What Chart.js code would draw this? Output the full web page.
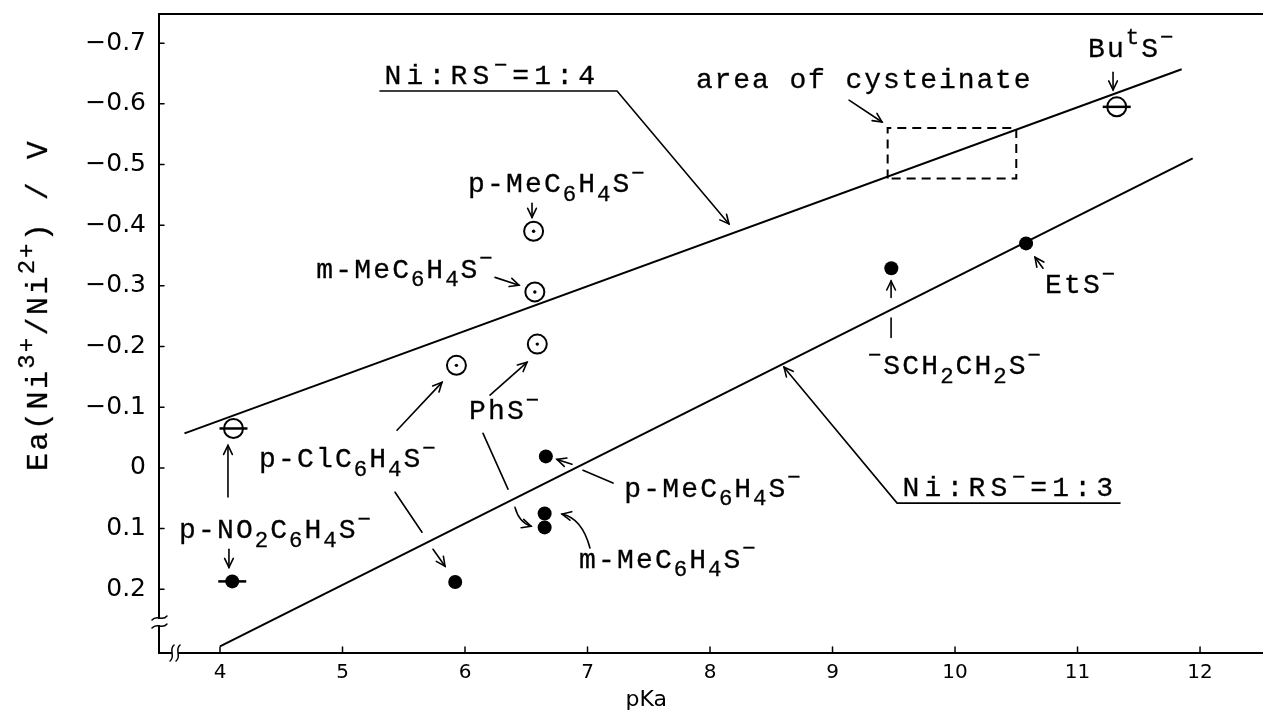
<!DOCTYPE html>
<html lang="en">
<head>
<meta charset="UTF-8">
<title>Ea(Ni3+/Ni2+) vs pKa</title>
<script src="https://cdn.jsdelivr.net/npm/chart.js"></script>
<style>
  html, body { margin: 0; padding: 0; background: #ffffff; }
  #chart { display: block; }
</style>
</head>
<body>
<canvas id="chart" width="1263" height="713"></canvas>
<script>
// axis ticks
const xTicks = [4, 5, 6, 7, 8, 9, 10, 11, 12];
const yTicks = [-0.7, -0.6, -0.5, -0.4, -0.3, -0.2, -0.1, 0, 0.1, 0.2];
const yTickLabels = ['\u22120.7', '\u22120.6', '\u22120.5', '\u22120.4', '\u22120.3', '\u22120.2', '\u22120.1', '0', '0.1', '0.2'];

// Ni:RS- = 1:4 complexes (open circle with dot): p-Me, m-Me, PhS, p-Cl
const pkaOpen = [6.56, 6.57, 6.59, 5.93];
const eaOpen = [-0.390, -0.290, -0.204, -0.169];
// open circles with pKa bar: p-NO2, ButS
const pkaOpenBar = [4.11, 11.32];
const eaOpenBar = [-0.065, -0.595];
// Ni:RS- = 1:3 complexes (filled): p-NO2, p-Cl, p-Me, m-Me, PhS, SCH2CH2S, EtS
const pkaFilled = [4.10, 5.92, 6.66, 6.65, 6.65, 9.48, 10.58];
const eaFilled = [0.187, 0.188, -0.019, 0.075, 0.098, -0.329, -0.370];
// horizontal pKa bars
const pkaBar = [4.11, 11.32, 4.10];
const eaBar = [-0.065, -0.595, 0.187];
// fitted lines
const pkaLine4 = [3.71, 11.85];
const eaLine4 = [-0.057, -0.657];
const pkaLine3 = [4.00, 11.94];
const eaLine3 = [0.294, -0.510];
// area of cysteinate
const pkaCys = [9.45, 9.45, 10.50, 10.50, 9.45];
const eaCys = [-0.477, -0.560, -0.560, -0.477, -0.477];

// labels, anchored at left/baseline in data units
const notes = [
  { text: 'Ni:RS^\u2212=1:4', x: 5.322, y: -0.632, pitch: 22 },
  { text: 'area of cysteinate', x: 7.877, y: -0.626, pitch: 18.7 },
  { text: 'Bu^tS^\u2212', x: 11.077, y: -0.677 },
  { text: 'p-MeC_6H_4S^\u2212', x: 6.016, y: -0.454 },
  { text: 'm-MeC_6H_4S^\u2212', x: 4.776, y: -0.313 },
  { text: 'PhS^\u2212', x: 6.024, y: -0.080 },
  { text: 'p-ClC_6H_4S^\u2212', x: 4.310, y: -0.001 },
  { text: 'p-NO_2C_6H_4S^\u2212', x: 3.657, y: 0.116 },
  { text: 'p-MeC_6H_4S^\u2212', x: 7.290, y: 0.048 },
  { text: 'm-MeC_6H_4S^\u2212', x: 6.922, y: 0.165 },
  { text: '^\u2212SCH_2CH_2S^\u2212', x: 9.282, y: -0.154 },
  { text: 'EtS^\u2212', x: 10.726, y: -0.288 },
  { text: 'Ni:RS^\u2212=1:3', x: 9.551, y: 0.047, pitch: 22 }
];

// leader lines and arrows, data units
const arrows = [
  { pts: [[5.306, -0.621], [7.241, -0.621], [8.155, -0.402]], head: true },
  { pts: [[9.135, -0.606], [9.404, -0.570]], head: true },
  { pts: [[11.29, -0.652], [11.29, -0.623]], head: true },
  { pts: [[6.547, -0.436], [6.547, -0.413]], head: true },
  { pts: [[6.245, -0.314], [6.441, -0.301]], head: true },
  { pts: [[6.204, -0.120], [6.506, -0.174]], head: true },
  { pts: [[6.147, -0.057], [6.351, 0.035]], head: false },
  { pts: [[6.408, 0.065], [6.441, 0.090], [6.539, 0.096]], head: true, curve: true },
  { pts: [[5.445, -0.062], [5.812, -0.141]], head: true },
  { pts: [[5.429, 0.040], [5.649, 0.106]], head: false },
  { pts: [[5.739, 0.134], [5.837, 0.162]], head: true },
  { pts: [[4.065, 0.048], [4.065, -0.037]], head: true },
  { pts: [[4.073, 0.134], [4.073, 0.164]], head: true },
  { pts: [[7.208, 0.025], [6.963, 0.004]], head: false },
  { pts: [[6.873, -0.006], [6.751, -0.014]], head: true },
  { pts: [[7.020, 0.132], [6.955, 0.083], [6.792, 0.076]], head: true, curve: true },
  { pts: [[9.478, -0.215], [9.478, -0.247]], head: false },
  { pts: [[9.478, -0.281], [9.478, -0.308]], head: true },
  { pts: [[10.718, -0.329], [10.653, -0.347]], head: true },
  { pts: [[11.347, 0.058], [9.527, 0.058], [8.604, -0.166]], head: true }
];

const yTitle = 'Ea(Ni^{3+}/Ni^{2+}) / V';
const xTitle = 'pKa';

const toPts = (xs, ys) => xs.map((x, i) => ({ x: x, y: ys[i] }));

function parseRich(str) {
  const out = [];
  let i = 0;
  while (i < str.length) {
    let ch = str[i];
    let mode = 'n';
    if (ch === '_' || ch === '^') {
      mode = ch === '_' ? 's' : 'p';
      i++;
      if (str[i] === '{') {
        const j = str.indexOf('}', i);
        for (const c of str.slice(i + 1, j)) out.push({ c: c, mode: mode });
        i = j + 1;
        continue;
      }
      ch = str[i];
    }
    out.push({ c: ch, mode: mode });
    i++;
  }
  return out;
}

// typewriter text with sub/superscripts, a touch heavier like the scan
function drawRich(ctx, str, x, y, size, pitch) {
  let cx = x;
  ctx.textAlign = 'center';
  ctx.textBaseline = 'alphabetic';
  ctx.lineWidth = 0.3;
  for (const g of parseRich(str)) {
    const small = g.mode !== 'n';
    const fs = small ? size * 0.8 : size;
    const dy = g.mode === 's' ? size * 0.3 : (g.mode === 'p' ? -size * 0.45 : 0);
    const adv = small ? pitch * 0.8 : pitch;
    ctx.font = fs + 'px "Liberation Mono"';
    ctx.fillText(g.c, cx + adv / 2, y + dy);
    ctx.strokeText(g.c, cx + adv / 2, y + dy);
    cx += adv;
  }
}

function arrowHead(ctx, x0, y0, x1, y1) {
  const a = Math.atan2(y1 - y0, x1 - x0);
  const len = 10, spread = 0.45;
  ctx.beginPath();
  ctx.moveTo(x1 - len * Math.cos(a - spread), y1 - len * Math.sin(a - spread));
  ctx.lineTo(x1, y1);
  ctx.lineTo(x1 - len * Math.cos(a + spread), y1 - len * Math.sin(a + spread));
  ctx.stroke();
}

// no extra room for edge labels: the plot box fills the canvas
function noPadding(scale) {
  scale.paddingLeft = 0;
  scale.paddingRight = 0;
  scale.paddingTop = 0;
  scale.paddingBottom = 0;
}

const decorations = {
  id: 'decorations',
  afterDraw(chart) {
    const ctx = chart.ctx;
    const xs = chart.scales.x, ys = chart.scales.y;
    const area = chart.chartArea;
    const px = v => xs.getPixelForValue(v);
    const py = v => ys.getPixelForValue(v);
    ctx.save();
    ctx.strokeStyle = '#000';
    ctx.fillStyle = '#000';
    ctx.lineCap = 'round';

    // top frame
    ctx.lineWidth = 2;
    ctx.beginPath();
    ctx.moveTo(area.left, area.top);
    ctx.lineTo(area.right, area.top);
    ctx.stroke();

    // inward tick marks
    ctx.lineWidth = 1.5;
    ys.ticks.forEach(t => {
      const y = py(t.value);
      ctx.beginPath();
      ctx.moveTo(area.left, y);
      ctx.lineTo(area.left + 5, y);
      ctx.stroke();
    });
    xs.ticks.forEach(t => {
      const x = px(t.value);
      ctx.beginPath();
      ctx.moveTo(x, area.bottom);
      ctx.lineTo(x, area.bottom - 6);
      ctx.stroke();
    });

    // axis breaks
    const yb = py(0.254);
    ctx.fillStyle = '#fff';
    ctx.fillRect(area.left - 3, yb - 3, 6, 6);
    ctx.fillStyle = '#000';
    ctx.lineWidth = 1.5;
    [yb - 4, yb + 4].forEach(y0 => {
      ctx.beginPath();
      ctx.moveTo(area.left - 7, y0 + 2);
      ctx.bezierCurveTo(area.left - 2, y0 - 4, area.left + 3, y0 + 4, area.left + 8, y0 - 2);
      ctx.stroke();
    });
    const xb = px(3.633);
    ctx.fillStyle = '#fff';
    ctx.fillRect(xb - 3, area.bottom - 3, 6, 6);
    ctx.fillStyle = '#000';
    [xb - 3, xb + 3].forEach(x0 => {
      ctx.beginPath();
      ctx.moveTo(x0 - 2, area.bottom + 8);
      ctx.bezierCurveTo(x0 + 4, area.bottom + 3, x0 - 4, area.bottom - 3, x0 + 2, area.bottom - 8);
      ctx.stroke();
    });

    // arrows
    ctx.lineWidth = 1.6;
    arrows.forEach(a => {
      const p = a.pts.map(q => [px(q[0]), py(q[1])]);
      ctx.beginPath();
      ctx.moveTo(p[0][0], p[0][1]);
      if (a.curve) {
        ctx.quadraticCurveTo(p[1][0], p[1][1], p[2][0], p[2][1]);
      } else {
        for (let i = 1; i < p.length; i++) ctx.lineTo(p[i][0], p[i][1]);
      }
      ctx.stroke();
      if (a.head) {
        const n = p.length;
        arrowHead(ctx, p[n - 2][0], p[n - 2][1], p[n - 1][0], p[n - 1][1]);
      }
    });

    // labels
    notes.forEach(n => drawRich(ctx, n.text, px(n.x), py(n.y), 28, n.pitch || 19));

    // axis titles
    ctx.save();
    ctx.translate(area.left - 112, py(0.007));
    ctx.rotate(-Math.PI / 2);
    drawRich(ctx, yTitle, 0, 0, 30, 20.5);
    ctx.restore();

    ctx.font = '22px "DejaVu Sans"';
    ctx.textAlign = 'center';
    ctx.textBaseline = 'middle';
    ctx.fillText(xTitle, px(7.48), area.bottom + 47);
    ctx.restore();
  }
};

new Chart(document.getElementById('chart'), {
  type: 'scatter',
  data: {
    datasets: [
      {
        label: 'pKa bar',
        data: toPts(pkaBar, eaBar),
        pointStyle: 'line',
        pointRadius: 14,
        pointBorderWidth: 2.5,
        borderColor: '#000',
        backgroundColor: '#000',
        order: 1
      },
      {
        label: 'centre dot',
        data: toPts(pkaOpen, eaOpen),
        pointRadius: 1.7,
        pointBorderWidth: 0,
        backgroundColor: '#000',
        borderColor: '#000',
        order: 2
      },
      {
        label: 'Ni:RS = 1:4',
        data: toPts(pkaOpen, eaOpen),
        pointRadius: 9.5,
        pointBorderWidth: 2,
        backgroundColor: '#fff',
        borderColor: '#000',
        order: 3
      },
      {
        label: 'Ni:RS = 1:4 (bar)',
        data: toPts(pkaOpenBar, eaOpenBar),
        pointRadius: 9.5,
        pointBorderWidth: 2,
        backgroundColor: '#fff',
        borderColor: '#000',
        order: 4
      },
      {
        label: 'Ni:RS = 1:3',
        data: toPts(pkaFilled, eaFilled),
        pointRadius: 7,
        pointBorderWidth: 0,
        backgroundColor: '#000',
        borderColor: '#000',
        order: 5
      },
      {
        label: 'fit 1:4',
        data: toPts(pkaLine4, eaLine4),
        showLine: true,
        pointRadius: 0,
        borderColor: '#000',
        borderWidth: 2,
        order: 6
      },
      {
        label: 'fit 1:3',
        data: toPts(pkaLine3, eaLine3),
        showLine: true,
        pointRadius: 0,
        borderColor: '#000',
        borderWidth: 2,
        order: 7
      },
      {
        label: 'area of cysteinate',
        data: toPts(pkaCys, eaCys),
        showLine: true,
        pointRadius: 0,
        borderColor: '#000',
        borderWidth: 2,
        borderDash: [9, 6],
        order: 8
      }
    ]
  },
  options: {
    responsive: false,
    animation: false,
    layout: { autoPadding: false, padding: { top: 14, left: 0, right: 0, bottom: 0 } },
    plugins: {
      legend: { display: false },
      tooltip: { enabled: false }
    },
    scales: {
      x: {
        type: 'linear',
        min: 3.502,
        max: 12.514,
        bounds: 'data',
        afterBuildTicks: scale => { scale.ticks = xTicks.map(v => ({ value: v })); },
        afterFit: scale => { scale.height = 60; noPadding(scale); },
        grid: { display: false, drawTicks: false },
        border: { display: true, color: '#000', width: 2 },
        ticks: {
          autoSkip: false,
          maxRotation: 0,
          padding: 8,
          color: '#000',
          font: { family: 'DejaVu Sans', size: 20 },
          callback: (v, i) => String(xTicks[i])
        }
      },
      y: {
        type: 'linear',
        reverse: true,
        min: -0.748,
        max: 0.305,
        bounds: 'data',
        afterBuildTicks: scale => { scale.ticks = yTicks.map(v => ({ value: v })); },
        afterFit: scale => { scale.width = 159; noPadding(scale); },
        grid: { display: false, drawTicks: false },
        border: { display: true, color: '#000', width: 2 },
        ticks: {
          autoSkip: false,
          padding: 13,
          color: '#000',
          font: { family: 'DejaVu Sans', size: 25 },
          callback: (v, i) => yTickLabels[i]
        }
      }
    }
  },
  plugins: [decorations]
});
</script>
</body>
</html>
